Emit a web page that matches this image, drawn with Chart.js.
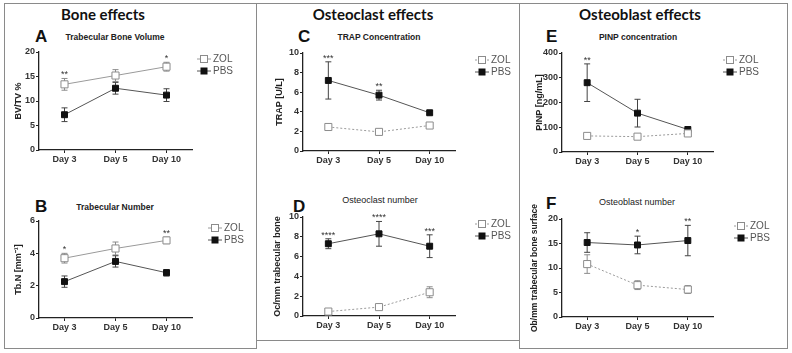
<!DOCTYPE html>
<html>
<head>
<meta charset="utf-8">
<script src="https://cdn.jsdelivr.net/npm/chart.js@4.4.1/dist/chart.umd.min.js"></script>
<style>
  body { margin: 0; background: #fff; }
  #page { position: relative; width: 792px; height: 353px; overflow: hidden; font-family: "Liberation Sans", Arial, sans-serif; }
  .box { position: absolute; border: 1.5px solid #8a8a8a; box-sizing: border-box; }
  .head { position: absolute; font-family: Lato, "Open Sans", sans-serif; font-weight: bold; font-size: 15px; color: #111; transform: translate(-50%, -50%); white-space: nowrap; }
  .letter { position: absolute; font-weight: bold; font-size: 17px; line-height: 17px; color: #111; }
  .ctitle { position: absolute; font-weight: bold; font-size: 8.5px; color: #222; transform: translate(-50%, -50%); white-space: nowrap; }
  .ctitle.light { font-weight: normal; font-size: 9px; }
  canvas { position: absolute; }
</style>
</head>
<body>
<div id="page">
  <div class="box" style="left:4px;top:3px;width:253px;height:346px"></div>
  <div class="box" style="left:256px;top:3px;width:264px;height:338px"></div>
  <div class="box" style="left:519px;top:3px;width:269px;height:346px"></div>

  <div class="head" style="left:103px;top:14px">Bone effects</div>
  <div class="head" style="left:373px;top:14px">Osteoclast effects</div>
  <div class="head" style="left:640px;top:14px">Osteoblast effects</div>

  <div class="letter" style="left:35px;top:28px">A</div>
  <div class="letter" style="left:35px;top:198px">B</div>
  <div class="letter" style="left:298px;top:28px">C</div>
  <div class="letter" style="left:293px;top:198px">D</div>
  <div class="letter" style="left:546px;top:28px">E</div>
  <div class="letter" style="left:546px;top:195px">F</div>

  <div class="ctitle" style="left:115px;top:37px">Trabecular Bone Volume</div>
  <div class="ctitle" style="left:115px;top:207px">Trabecular Number</div>
  <div class="ctitle" style="left:379px;top:37px">TRAP Concentration</div>
  <div class="ctitle light" style="left:380px;top:200px">Osteoclast number</div>
  <div class="ctitle" style="left:638px;top:37px">PINP concentration</div>
  <div class="ctitle light" style="left:637px;top:202px">Osteoblast number</div>
</div>
<script>
// 天数
const days = ['Day 3', 'Day 5', 'Day 10'];

// A 骨体积
const zolBV = [13.4, 15.2, 17.0];
const zolBVErr = [1.2, 1.2, 0.9];
const pbsBV = [7.2, 12.6, 11.2];
const pbsBVErr = [1.4, 1.2, 1.3];
const starsBV = ['**', '', '*'];

// B 骨小梁数
const zolTbN = [3.7, 4.3, 4.8];
const zolTbNErr = [0.3, 0.4, 0.2];
const pbsTbN = [2.25, 3.5, 2.8];
const pbsTbNErr = [0.35, 0.35, 0.2];
const starsTbN = ['*', '', '**'];

// C TRAP
const zolTRAP = [2.45, 1.95, 2.6];
const zolTRAPErr = [0.25, 0.1, 0.3];
const pbsTRAP = [7.2, 5.7, 3.9];
const pbsTRAPErr = [1.9, 0.5, 0.2];
const starsTRAP = ['***', '**', ''];

// D 破骨细胞数
const zolOc = [0.45, 0.9, 2.4];
const zolOcErr = [0.1, 0.1, 0.55];
const pbsOc = [7.3, 8.3, 7.05];
const pbsOcErr = [0.5, 1.25, 1.15];
const starsOc = ['****', '****', '***'];

// E PINP
const zolPINP = [65, 62, 75];
const zolPINPErr = [5, 5, 6];
const pbsPINP = [280, 157, 91];
const pbsPINPErr = [76, 56, 10];
const starsPINP = ['**', '', ''];

// F 成骨细胞数
const zolOb = [10.8, 6.5, 5.6];
const zolObErr = [1.9, 0.9, 0.8];
const pbsOb = [15.2, 14.7, 15.6];
const pbsObErr = [2.0, 1.8, 3.1];
const starsOb = ['', '*', '**'];

const ZOL_COLOR = '#8c8c8c';
const PBS_COLOR = '#111';
const PBS_LINE = '#555';

// 误差线 + 星号 + 图例
const errorBarPlugin = {
    id: 'errorBars',
    beforeDatasetsDraw(chart) {
        const ctx = chart.ctx;
        const yScale = chart.scales.y;
        chart.data.datasets.forEach((ds, di) => {
            const meta = chart.getDatasetMeta(di);
            ctx.save();
            ctx.strokeStyle = ds.errColor;
            ctx.lineWidth = 1;
            meta.data.forEach((pt, i) => {
                const v = ds.data[i], e = ds.err[i];
                const top = yScale.getPixelForValue(v + e);
                const bot = yScale.getPixelForValue(v - e);
                ctx.beginPath();
                ctx.moveTo(pt.x, top); ctx.lineTo(pt.x, bot);
                ctx.moveTo(pt.x - 3, top); ctx.lineTo(pt.x + 3, top);
                ctx.moveTo(pt.x - 3, bot); ctx.lineTo(pt.x + 3, bot);
                ctx.stroke();
            });
            ctx.restore();
        });
    },
    afterDraw(chart) {
        const ctx = chart.ctx;
        const yScale = chart.scales.y;
        const xScale = chart.scales.x;
        const stars = chart.options.plugins.errorBars.stars;
        ctx.save();
        ctx.fillStyle = '#333';
        ctx.font = '9px "Liberation Sans"';
        ctx.textAlign = 'center';
        ctx.textBaseline = 'alphabetic';
        stars.forEach((s, i) => {
            if (!s) return;
            let hi = -Infinity;
            chart.data.datasets.forEach(ds => { hi = Math.max(hi, ds.data[i] + ds.err[i]); });
            ctx.fillText(s, xScale.getPixelForValue(i), yScale.getPixelForValue(hi) - 1);
        });
        // 图例
        const lg = chart.options.plugins.errorBars.legend;
        const mx = chart.chartArea.right + lg.dx;
        chart.data.datasets.forEach((ds, di) => {
            const y = chart.chartArea.top + 7 + di * 12;
            ctx.strokeStyle = ds.borderColor;
            ctx.lineWidth = 1;
            ctx.setLineDash(ds.borderDash || []);
            ctx.beginPath();
            ctx.moveTo(mx - 7, y); ctx.lineTo(mx + 7, y);
            ctx.stroke();
            ctx.setLineDash([]);
            const sz = di === 0 ? 3.5 : 3;
            ctx.fillStyle = ds.pointBackgroundColor;
            ctx.fillRect(mx - sz, y - sz, sz * 2, sz * 2);
            ctx.strokeStyle = ds.pointBorderColor;
            ctx.strokeRect(mx - sz, y - sz, sz * 2, sz * 2);
            ctx.fillStyle = '#555';
            ctx.font = '10px "Liberation Sans"';
            ctx.textAlign = 'left';
            ctx.textBaseline = 'middle';
            ctx.fillText(ds.label, mx + 9, y + 0.5);
        });
        ctx.restore();
    }
};

const makeChart = (p) => {
    const padTop = 25, padBottom = 15, xH = 20;
    const x0 = p.titleX - 5;
    const y0 = p.area.t - padTop;
    const w = p.boxRight - x0;
    const h = p.area.b + xH + padBottom - y0;
    const canvas = document.createElement('canvas');
    canvas.width = w; canvas.height = h;
    canvas.style.left = x0 + 'px'; canvas.style.top = y0 + 'px';
    canvas.style.width = w + 'px'; canvas.style.height = h + 'px';
    document.getElementById('page').appendChild(canvas);

    const tickFont = {family: '"Liberation Sans"', size: 9, weight: 'bold'};
    new Chart(canvas.getContext('2d'), {
        type: 'line',
        data: {
            labels: days,
            datasets: [{
                label: 'ZOL',
                data: p.zol,
                err: p.zolErr,
                errColor: ZOL_COLOR,
                borderColor: '#9a9a9a',
                borderWidth: 1,
                borderDash: p.dashed ? [2, 2] : [],
                pointStyle: 'rect',
                pointRadius: 5,
                pointBackgroundColor: '#fff',
                pointBorderColor: ZOL_COLOR,
                pointBorderWidth: 1
            }, {
                label: 'PBS',
                data: p.pbs,
                err: p.pbsErr,
                errColor: '#444',
                borderColor: PBS_LINE,
                borderWidth: 1,
                pointStyle: 'rect',
                pointRadius: 4.2,
                pointBackgroundColor: PBS_COLOR,
                pointBorderColor: PBS_COLOR,
                pointBorderWidth: 1
            }]
        },
        options: {
            responsive: false,
            animation: false,
            devicePixelRatio: 1,
            layout: {padding: {left: 0, top: padTop, right: p.boxRight - p.area.r, bottom: padBottom}},
            plugins: {
                legend: {display: false},
                tooltip: {enabled: false},
                errorBars: {stars: p.stars, legend: {dx: p.legendDx}}
            },
            scales: {
                x: {
                    offset: true,
                    afterFit: (s) => { s.height = xH; },
                    grid: {drawOnChartArea: false, offset: false, tickLength: 3, color: '#222', lineWidth: 1},
                    border: {color: '#222', width: 1.3},
                    ticks: {font: tickFont, color: '#333', padding: 1}
                },
                y: {
                    min: 0,
                    max: p.ymax,
                    afterFit: (s) => { s.width = p.area.l - x0; },
                    grid: {drawOnChartArea: false, tickLength: 3, color: '#222', lineWidth: 1},
                    border: {color: '#222', width: 1.3},
                    ticks: {stepSize: p.step, font: tickFont, color: '#333', padding: 1},
                    title: {display: true, text: p.yTitle, padding: 0, color: '#222',
                        font: {family: '"Liberation Sans"', size: p.yTitleSize || 9, weight: 'bold'}}
                }
            }
        },
        plugins: [errorBarPlugin]
    });
};

makeChart({area: {l: 39, t: 52, r: 192, b: 150}, titleX: 18, boxRight: 255, ymax: 20, step: 5, yTitle: 'BV/TV %',
    zol: zolBV, zolErr: zolBVErr, pbs: pbsBV, pbsErr: pbsBVErr, stars: starsBV, dashed: false, legendDx: 12});
makeChart({area: {l: 39, t: 221, r: 192, b: 318}, titleX: 18, boxRight: 255, ymax: 6, step: 2, yTitle: 'Tb.N [mm⁻¹]',
    zol: zolTbN, zolErr: zolTbNErr, pbs: pbsTbN, pbsErr: pbsTbNErr, stars: starsTbN, dashed: false, legendDx: 23});
makeChart({area: {l: 303, t: 53, r: 455, b: 151}, titleX: 279, boxRight: 518, ymax: 10, step: 2, yTitle: 'TRAP [U/L]',
    zol: zolTRAP, zolErr: zolTRAPErr, pbs: pbsTRAP, pbsErr: pbsTRAPErr, stars: starsTRAP, dashed: true, legendDx: 27});
makeChart({area: {l: 303, t: 217, r: 455, b: 316}, titleX: 277, boxRight: 518, ymax: 10, step: 2, yTitle: 'Oc/mm trabecular bone',
    zol: zolOc, zolErr: zolOcErr, pbs: pbsOc, pbsErr: pbsOcErr, stars: starsOc, dashed: true, legendDx: 27});
makeChart({area: {l: 562, t: 53, r: 713, b: 152}, titleX: 539, boxRight: 786, ymax: 400, step: 100, yTitle: 'PINP [ng/mL]',
    zol: zolPINP, zolErr: zolPINPErr, pbs: pbsPINP, pbsErr: pbsPINPErr, stars: starsPINP, dashed: true, legendDx: 17});
makeChart({area: {l: 562, t: 219, r: 713, b: 317}, titleX: 535, boxRight: 786, ymax: 20, step: 5, yTitle: 'Ob/mm trabecular bone surface',
    yTitleSize: 8.5,
    zol: zolOb, zolErr: zolObErr, pbs: pbsOb, pbsErr: pbsObErr, stars: starsOb, dashed: true, legendDx: 28});
</script>
</body>
</html>
